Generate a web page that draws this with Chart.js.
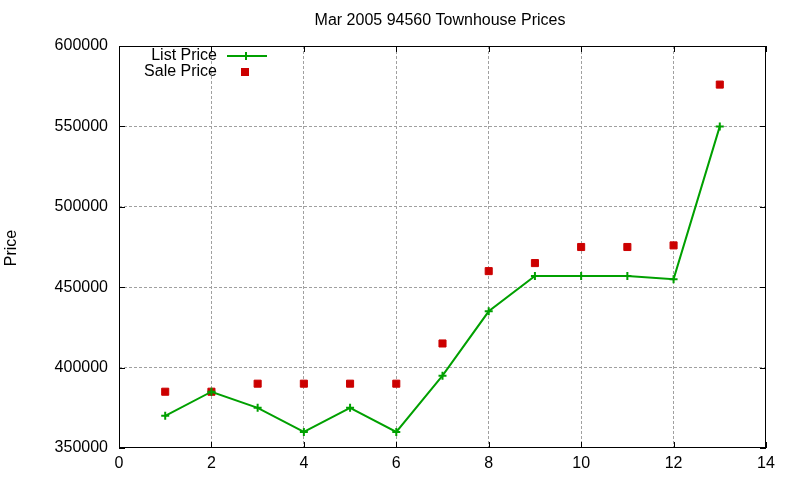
<!DOCTYPE html>
<html><head><meta charset="utf-8">
<script src="https://cdn.jsdelivr.net/npm/chart.js@4/dist/chart.umd.min.js"></script>
<style>html,body{margin:0;padding:0;background:#fff;}#wrap{width:800px;height:480px;position:relative;}</style>
</head><body><div id="wrap"><canvas id="c" width="800" height="480"></canvas></div>
<script>
const titleText = "Mar 2005 94560 Townhouse Prices";
const yAxisLabel = "Price";
const categories = [1,2,3,4,5,6,7,8,9,10,11,12,13];
const listPrice = [370000,385000,375000,360000,375000,360000,395000,435000,457000,457000,457000,455000,550000];
const salePrice = [385000,385000,390000,390000,390000,390000,415000,460000,465000,475000,475000,476000,576000];
const seriesNames = ["List Price","Sale Price"];
const xTicks = [0,2,4,6,8,10,12,14];
const yTicks = [350000,400000,450000,500000,550000,600000];

const FAMILY = '"Liberation Sans", Arial, sans-serif';
const FONT = '16px ' + FAMILY;
const GREEN = '#00a000', RED = '#cc0000';

const decor = {
  id:'decor',
  afterDraw(chart){
    const ctx = chart.ctx, ca = chart.chartArea;
    const xs = chart.scales.x, ys = chart.scales.y;
    ctx.save();
    ctx.strokeStyle = '#000'; ctx.lineWidth = 1;
    ctx.strokeRect(Math.round(ca.left)+0.5, Math.round(ca.top)+0.5, Math.round(ca.right-ca.left)-1, Math.round(ca.bottom-ca.top)-1);
    ctx.beginPath();
    xTicks.forEach(v=>{const px=Math.round(xs.getPixelForValue(v))+0.5;
      ctx.moveTo(px,ca.bottom); ctx.lineTo(px,ca.bottom-6);
      ctx.moveTo(px,ca.top); ctx.lineTo(px,ca.top+6);});
    yTicks.forEach(v=>{const py=Math.round(ys.getPixelForValue(v))+0.5;
      ctx.moveTo(ca.left,py); ctx.lineTo(ca.left+6,py);
      ctx.moveTo(ca.right,py); ctx.lineTo(ca.right-6,py);});
    ctx.stroke();
    ctx.fillStyle='#000'; ctx.font=FONT; ctx.textAlign='center'; ctx.textBaseline='middle';
    ctx.fillText(titleText, 440, 21);
    ctx.save(); ctx.translate(12, 248); ctx.rotate(-Math.PI/2);
    ctx.fillText(yAxisLabel, 0, 0); ctx.restore();
    ctx.textAlign='right';
    ctx.fillText(seriesNames[0], 217, 56);
    ctx.fillText(seriesNames[1], 217, 72);
    ctx.strokeStyle=GREEN; ctx.lineWidth=2;
    ctx.beginPath(); ctx.moveTo(227,56); ctx.lineTo(267,56);
    ctx.moveTo(246,52); ctx.lineTo(246,60); ctx.stroke();
    ctx.fillStyle=RED; ctx.fillRect(241,68,8,8);
    ctx.restore();
  }
};

new Chart(document.getElementById('c'), {
  type:'line',
  data:{
    datasets:[
      {label:seriesNames[0], data:categories.map((x,i)=>({x:x,y:listPrice[i]})),
       borderColor:GREEN, backgroundColor:GREEN, borderWidth:2,
       pointStyle:'cross', pointRadius:4, pointBorderWidth:2, pointBorderColor:GREEN, tension:0, fill:false},
      {label:seriesNames[1], data:categories.map((x,i)=>({x:x,y:salePrice[i]})),
       showLine:false, pointStyle:'rect', pointRadius:5, pointBorderWidth:1,
       pointBackgroundColor:RED, pointBorderColor:RED, borderColor:RED, backgroundColor:RED}
    ]
  },
  options:{
    responsive:false, animation:false, devicePixelRatio:1,
    layout:{padding:{left:0,top:46,right:34,bottom:0}},
    plugins:{legend:{display:false}, title:{display:false}, tooltip:{enabled:false}},
    scales:{
      x:{type:'linear', min:0, max:14,
        afterBuildTicks(s){s.ticks = xTicks.map(v=>({value:v}));},
        afterFit(s){s.height = 32;},
        border:{display:false, dash:[3,2]},
        grid:{drawTicks:false, color:(c)=> (c.tick && (c.tick.value===0||c.tick.value===14))?'rgba(0,0,0,0)':'#a0a0a0', lineWidth:1},
        ticks:{color:'#000', font:{family:FAMILY, size:16}, padding:6, maxRotation:0, autoSkip:false}
      },
      y:{type:'linear', min:350000, max:600000,
        afterBuildTicks(s){s.ticks = yTicks.map(v=>({value:v}));},
        afterFit(s){s.width = 119;},
        border:{display:false, dash:[3,2]},
        grid:{drawTicks:false, color:(c)=> (c.tick && (c.tick.value===350000||c.tick.value===600000))?'rgba(0,0,0,0)':'#a0a0a0', lineWidth:1},
        ticks:{color:'#000', font:{family:FAMILY, size:16}, padding:11, autoSkip:false,
          callback:(v)=>String(v)}
      }
    }
  },
  plugins:[decor]
});
</script></body></html>
